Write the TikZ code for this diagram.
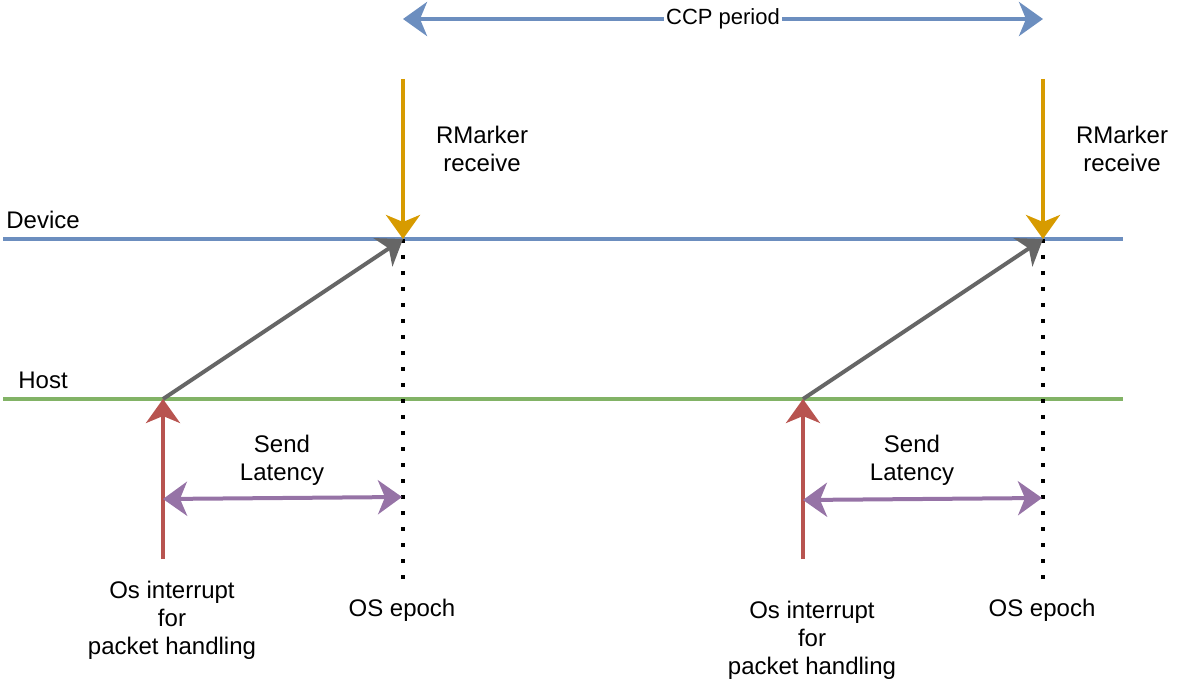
\documentclass[tikz,border=0pt]{standalone}
\usepackage{fontspec}
\setmainfont{Liberation Sans}
\usetikzlibrary{arrows.meta, positioning}

\definecolor{devblue}{HTML}{6C8EBF}
\definecolor{hostgreen}{HTML}{82B366}
\definecolor{markyellow}{HTML}{D79B00}
\definecolor{sendgrey}{HTML}{666666}
\definecolor{irqred}{HTML}{B85450}
\definecolor{latpurple}{HTML}{9673A6}

\begin{document}
\begin{tikzpicture}[x=0.5pt, y=-0.5pt,
            lbl/.style={align=center, inner sep=0pt, font=\fontsize{12}{14}\selectfont},
            arrow/.style={-{Stealth[length=12pt, width=17pt, inset=3.5pt]}, line width=2pt},
            dblarrow/.style={{Stealth[length=12pt, width=17pt, inset=3.5pt]}-{Stealth[length=12pt, width=17pt, inset=3.5pt]}, line width=2pt},
            timeline/.style={line width=2pt},
            epoch/.style={line width=1.8pt, dash pattern=on 1.8pt off 6.2pt}
        ]
            \useasboundingbox (0,0) rectangle (1184,700);

            % time lines
            \coordinate (devW) at (3,239);
            \coordinate (devE) at (1123,239);
            \coordinate (hostW) at (3,399);
            \coordinate (hostE) at (1123,399);
            \draw[timeline, devblue] (devW) -- (devE);
            \draw[timeline, hostgreen] (hostW) -- (hostE);
            \node[lbl, anchor=west] (device) at (6,220) {Device};
            \node[lbl, anchor=west] (host) at (18,380) {Host};

            % CCP period
            \coordinate (ccpA) at (403,19);
            \coordinate (ccpB) at (1043,19);
            \draw[dblarrow, devblue] (ccpA) -- (ccpB)
                node[midway, fill=white, inner sep=1pt, font=\fontsize{11}{13}\selectfont, text=black] (ccp) {CCP period};

            % first period
            \coordinate (markA) at (403,79);
            \coordinate (epochA) at (403,239);
            \coordinate (epochAend) at (403,579);
            \coordinate (sendA) at (163,399);
            \coordinate (irqA) at (163,559);
            \coordinate (latA1) at (163,499);
            \coordinate (latA2) at (402,497);
            \draw[epoch] (epochA) -- (epochAend);
            \draw[arrow, markyellow] (markA) -- (epochA);
            \draw[arrow, sendgrey] (sendA) -- (epochA);
            \draw[arrow, irqred] (irqA) -- (sendA);
            \draw[dblarrow, latpurple] (latA1) -- (latA2);
            \node[lbl] (rmA) at (482,149) {RMarker\\receive};
            \node[lbl] (slA) at (282,460) {Send\\Latency};
            \node[lbl] (irqtxtA) at (172,620) {Os interrupt\\for\\packet handling};
            \node[lbl] (osA) at (402,610) {OS epoch};

            % second period
            \coordinate (markB) at (1043,79);
            \coordinate (epochB) at (1043,239);
            \coordinate (epochBend) at (1043,579);
            \coordinate (sendB) at (803,399);
            \coordinate (irqB) at (803,559);
            \coordinate (latB1) at (803,500);
            \coordinate (latB2) at (1042,498);
            \draw[epoch] (epochB) -- (epochBend);
            \draw[arrow, markyellow] (markB) -- (epochB);
            \draw[arrow, sendgrey] (sendB) -- (epochB);
            \draw[arrow, irqred] (irqB) -- (sendB);
            \draw[dblarrow, latpurple] (latB1) -- (latB2);
            \node[lbl] (rmB) at (1122,149) {RMarker\\receive};
            \node[lbl] (slB) at (912,460) {Send\\Latency};
            \node[lbl] (irqtxtB) at (812,640) {Os interrupt\\for\\packet handling};
            \node[lbl] (osB) at (1042,610) {OS epoch};
        \end{tikzpicture}
\end{document}
